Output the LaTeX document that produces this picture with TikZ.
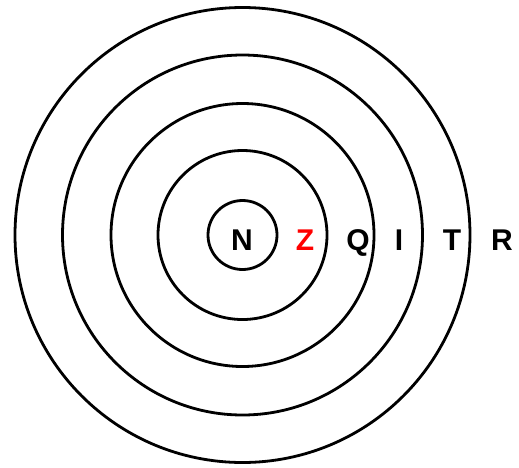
\documentclass[tikz,border=0pt]{standalone}
\usepackage{fontspec}
\setmainfont{Liberation Sans}
\begin{document}
\begin{tikzpicture}[x=1pt,y=1pt,
  ring/.style={draw=black,line width=2.8pt},
  lbl/.style={font=\bfseries\fontsize{30}{30}\selectfont,inner sep=0pt,anchor=base}]
\useasboundingbox (0,0) rectangle (519,-467);
\coordinate (c) at (242.5,-235);
\draw[ring] (c) circle (34.5);
\draw[ring] (c) circle (84.5);
\draw[ring] (c) circle (131.5);
\draw[ring] (c) circle (180);
\draw[ring] (c) circle (227.5);
\node[lbl] (n) at (242,-250) {N};
\node[lbl,text=red] (z) at (305,-250) {Z};
\node[lbl] (q) at (358,-250) {Q};
\node[lbl] (i) at (399,-250) {I};
\node[lbl] (t) at (452,-250) {T};
\node[lbl] (r) at (502,-250) {R};
\end{tikzpicture}
\end{document}
